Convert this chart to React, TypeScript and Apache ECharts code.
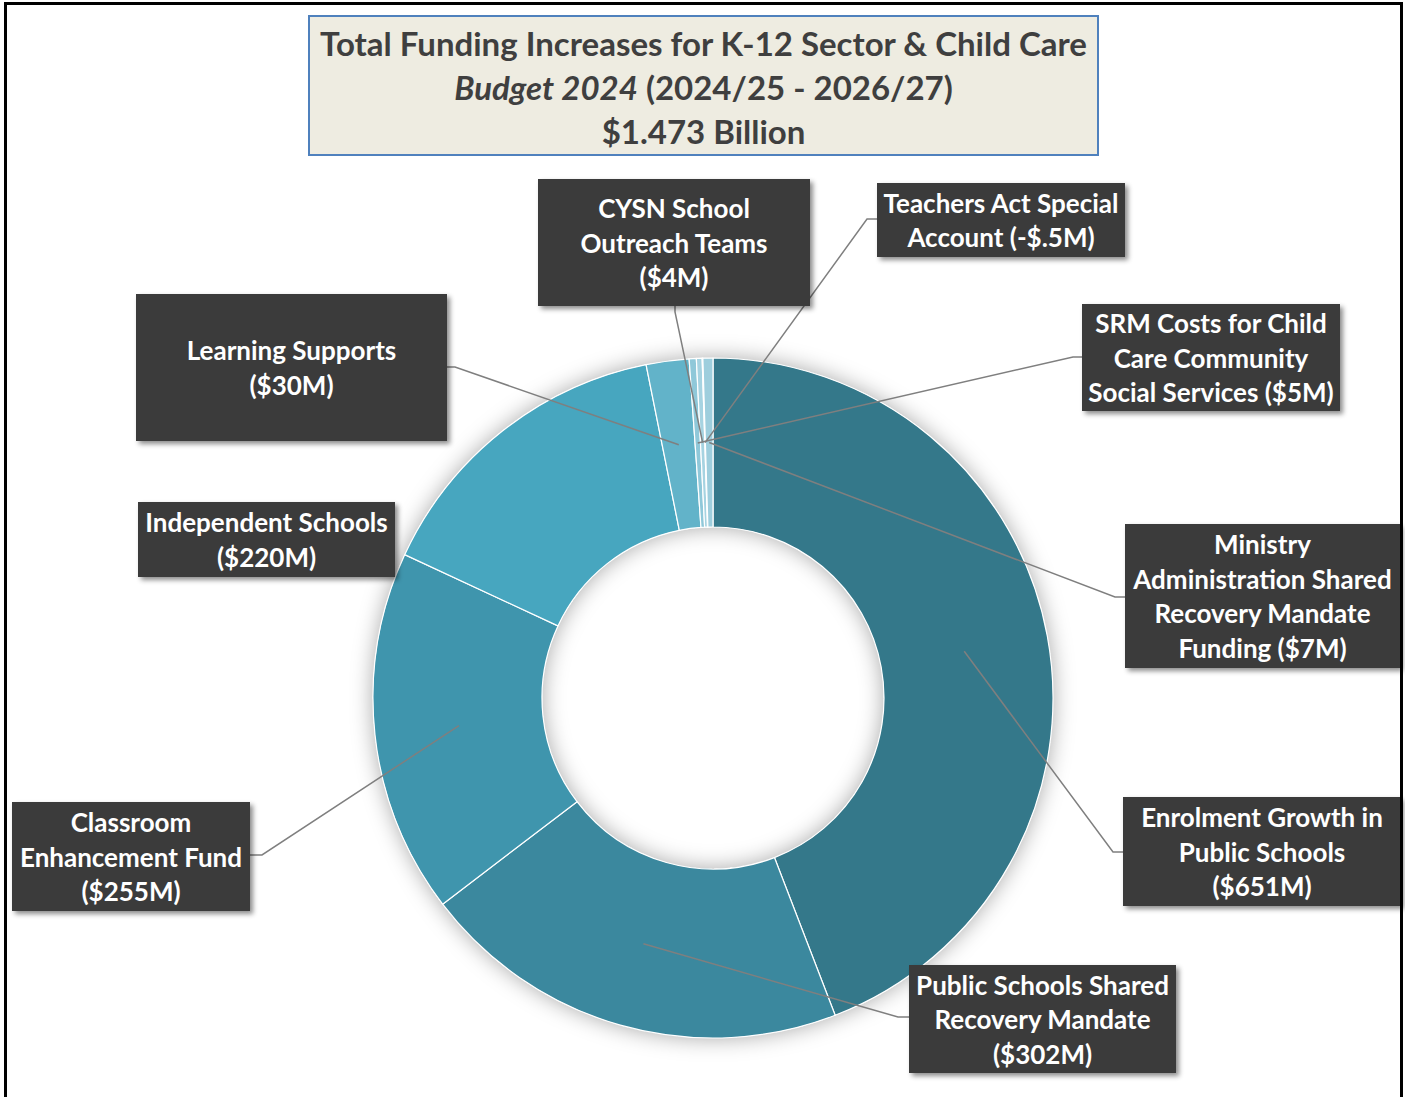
import React, { useEffect, useRef } from "react";
import * as echarts from "echarts";

// ---- data ----
const categories = [
  "Enrolment Growth in Public Schools",
  "Public Schools Shared Recovery Mandate",
  "Classroom Enhancement Fund",
  "Independent Schools",
  "Learning Supports",
  "SRM Costs for Child Care Community Social Services",
  "CYSN School Outreach Teams",
  "Teachers Act Special Account",
  "Ministry Administration Shared Recovery Mandate Funding",
];
const values = [651, 302, 255, 220, 30, 5, 4, -0.5, 7];
const valueLabels = ["$651M", "$302M", "$255M", "$220M", "$30M", "$5M", "$4M", "-$.5M", "$7M"];
const wrappedNames = [
  "Enrolment Growth in\nPublic Schools\n",
  "Public Schools Shared\nRecovery Mandate\n",
  "Classroom\nEnhancement Fund\n",
  "Independent Schools\n",
  "Learning Supports\n",
  "SRM Costs for Child\nCare Community\nSocial Services ",
  "CYSN School\nOutreach Teams\n",
  "Teachers Act Special\nAccount ",
  "Ministry\nAdministration Shared\nRecovery Mandate\nFunding ",
];
const titleLines = ["Total Funding Increases for K-12 Sector & Child Care", "Budget 2024", " (2024/25 - 2026/27)", "$1.473 Billion"];

// ---- styles / layout ----
const colors = ["#34788A", "#3B889E", "#3F95AD", "#47A6BF", "#62B3C9", "#8FC8D9", "#A6D3E1", "#BFE0EA", "#9ECEDD"];
const CX = 713, CY = 698, R_IN = 171, R_OUT = 340;
const boxes = [
  { cx: 1262, cy: 851.5, w: 278, h: 109, line: [[1113, 852], [1123, 852]] },
  { cx: 1042.5, cy: 1019, w: 267, h: 108, line: [[898, 1017], [909, 1017]] },
  { cx: 131, cy: 856.5, w: 238, h: 109, line: [[262, 855], [250, 855]] },
  { cx: 266.5, cy: 539.5, w: 257, h: 75, line: null },
  { cx: 291.5, cy: 367.5, w: 311, h: 147, line: [[455, 367], [447, 367]] },
  { cx: 1211, cy: 357.5, w: 258, h: 107, line: [[1073, 357], [1082, 357]] },
  { cx: 674, cy: 242.5, w: 272, h: 127, line: [[675, 312], [675, 306]] },
  { cx: 1001, cy: 220, w: 248, h: 74, line: [[867, 219], [877, 219]] },
  { cx: 1262.5, cy: 596, w: 275, h: 144, line: [[1115, 597], [1125, 597]] },
];
const LINE_H = 34.5;
const FONT = "Lato, 'Open Sans', sans-serif";
const TITLE_SIZE = 33;
const LABEL_SIZE = 26;

export default function App() {
  const ref = useRef<HTMLDivElement>(null);
  useEffect(() => {
    if (!ref.current) return;
    const chart = echarts.init(ref.current, null, { renderer: "svg" });
    const abs = values.map((v) => Math.abs(v));
    const total = abs.reduce((a, b) => a + b, 0);
    let cum = 0;
    const anchors = abs.map((v) => {
      const mid = ((cum + v / 2) / total) * Math.PI * 2;
      cum += v;
      const r = (R_IN + R_OUT) / 2;
      return [CX + r * Math.sin(mid), CY - r * Math.cos(mid)];
    });
    const sliceData = categories.map((name, i) => ({
      name,
      value: abs[i],
      itemStyle: { color: colors[i] },
    }));
    const labelData = categories.map((name, i) => {
      const nLines = (wrappedNames[i] + "x").split("\n").length;
      const padV = Math.max(0, (boxes[i].h - nLines * LINE_H) / 2);
      return {
        name,
        value: abs[i],
        label: {
          width: boxes[i].w - 8,
          padding: [padV, 4, padV, 4],
        },
        labelLine: { show: !!boxes[i].line },
      };
    });
    const titleStyle = {
      fill: "#3F3F3F",
      font: `bold ${TITLE_SIZE}px ${FONT}`,
      textAlign: "center",
      textVerticalAlign: "middle",
    };
    chart.setOption({
      animation: false,
      backgroundColor: "#ffffff",
      graphic: [
        {
          type: "rect",
          shape: { x: 5.5, y: 3.5, width: 1396, height: 1100 },
          style: { fill: "none", stroke: "#000", lineWidth: 3 },
          z: 100,
        },
        {
          type: "rect",
          shape: { x: 309, y: 16, width: 789, height: 139 },
          style: { fill: "#EEECE1", stroke: "#4F81BD", lineWidth: 2 },
        },
        { type: "text", x: 703.5, y: 43, style: { ...titleStyle, text: titleLines[0] } },
        {
          type: "text",
          x: 703.5,
          y: 87,
          style: {
            text: `{i|${titleLines[1]}}{n|${titleLines[2]}}`,
            rich: {
              i: { fontFamily: FONT, fontWeight: "bold", fontStyle: "italic", fontSize: TITLE_SIZE, fill: "#3F3F3F" },
              n: { fontFamily: FONT, fontWeight: "bold", fontSize: TITLE_SIZE, fill: "#3F3F3F" },
            },
            textAlign: "center",
            textVerticalAlign: "middle",
          },
        },
        { type: "text", x: 703.5, y: 131, style: { ...titleStyle, text: titleLines[3] } },
      ],
      series: [
        {
          type: "pie",
          silent: true,
          center: [CX, CY],
          radius: [R_IN, R_OUT],
          z: 1,
          label: { show: false },
          labelLine: { show: false },
          itemStyle: { color: "#ffffff", shadowBlur: 22, shadowColor: "rgba(0,0,0,0.35)" },
          data: [{ value: 1, name: "ring" }],
        },
        {
          type: "pie",
          silent: true,
          center: [CX, CY],
          radius: [R_IN, R_OUT],
          startAngle: 90,
          clockwise: true,
          z: 2,
          itemStyle: { borderColor: "#ffffff", borderWidth: 1.2 },
          label: { show: false },
          labelLine: { show: false },
          data: sliceData,
        },
        {
          type: "pie",
          silent: true,
          center: [CX, CY],
          radius: [R_IN, R_OUT],
          startAngle: 90,
          clockwise: true,
          avoidLabelOverlap: false,
          z: 3,
          itemStyle: { color: "rgba(0,0,0,0)", borderWidth: 0 },
          label: {
            show: true,
            position: "outside",
            formatter: (p: any) => wrappedNames[p.dataIndex] + "(" + valueLabels[p.dataIndex] + ")",
            color: "#ffffff",
            fontFamily: FONT,
            fontWeight: "bold",
            fontSize: LABEL_SIZE,
            lineHeight: LINE_H,
            align: "center",
            overflow: "none",
            backgroundColor: "#3A3A3A",
            shadowColor: "rgba(0,0,0,0.45)",
            shadowBlur: 5,
            shadowOffsetX: 3,
            shadowOffsetY: 3,
          },
          labelLine: { show: true, lineStyle: { color: "#7F7F7F", width: 1.5 } },
          labelLayout: (params: any) => {
            const i = params.dataIndex;
            const b = boxes[i];
            const res: any = { x: b.cx, y: b.cy, align: "center", verticalAlign: "middle" };
            if (b.line) res.labelLinePoints = [anchors[i], b.line[0], b.line[1]];
            return res;
          },
          data: labelData,
        },
      ],
    });
    return () => chart.dispose();
  }, []);
  return <div ref={ref} style={{ position: "absolute", left: 0, top: 0, width: 1405, height: 1097 }} />;
}
